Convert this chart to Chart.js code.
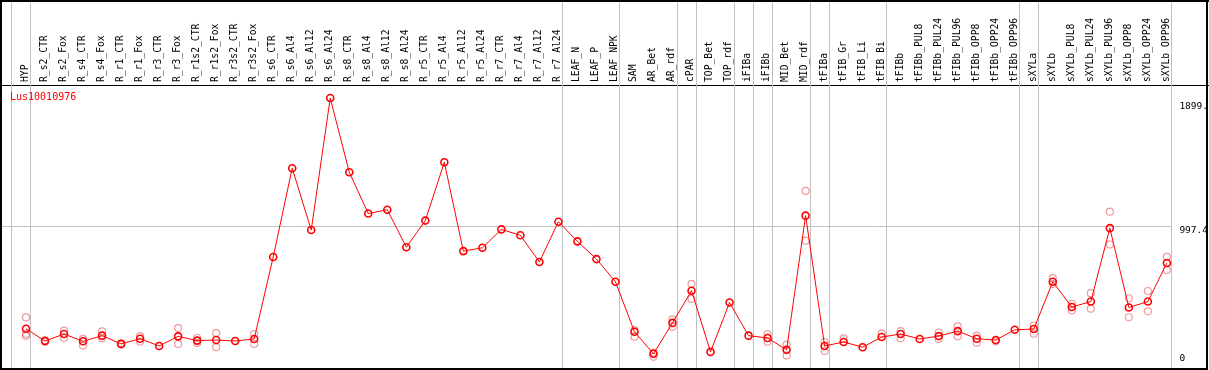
<!DOCTYPE html>
<html>
<head>
<meta charset="utf-8">
<script src="https://cdn.jsdelivr.net/npm/chart.js@4/dist/chart.umd.min.js"></script>
<style>
  html, body { margin: 0; padding: 0; background: #fff; }
  #wrap { width: 1209px; height: 370px; }
</style>
</head>
<body>
<div id="wrap"><canvas id="chartContainer"></canvas></div>
<script>
const geneName = 'Lus10010976';

const samples = ['HYP', 'R_s2_CTR', 'R_s2_Fox', 'R_s4_CTR', 'R_s4_Fox', 'R_r1_CTR', 'R_r1_Fox',
	'R_r3_CTR', 'R_r3_Fox', 'R_r1s2_CTR', 'R_r1s2_Fox', 'R_r3s2_CTR', 'R_r3s2_Fox',
	'R_s6_CTR', 'R_s6_Al4', 'R_s6_Al12', 'R_s6_Al24', 'R_s8_CTR', 'R_s8_Al4', 'R_s8_Al12', 'R_s8_Al24',
	'R_r5_CTR', 'R_r5_Al4', 'R_r5_Al12', 'R_r5_Al24', 'R_r7_CTR', 'R_r7_Al4', 'R_r7_Al12', 'R_r7_Al24',
	'LEAF_N', 'LEAF_P', 'LEAF_NPK', 'SAM', 'AR_Bet', 'AR_rdf', 'cPAR', 'TOP_Bet', 'TOP_rdf',
	'iFIBa', 'iFIBb', 'MID_Bet', 'MID_rdf', 'tFIBa', 'tFIB_Gr', 'tFIB_Li', 'tFIB_Bi',
	'tFIBb', 'tFIBb_PUL8', 'tFIBb_PUL24', 'tFIBb_PUL96', 'tFIBb_OPP8', 'tFIBb_OPP24', 'tFIBb_OPP96',
	'sXYLa', 'sXYLb', 'sXYLb_PUL8', 'sXYLb_PUL24', 'sXYLb_PUL96', 'sXYLb_OPP8', 'sXYLb_OPP24', 'sXYLb_OPP96'];

// mean expression
const meanValues = [253, 164, 215, 162, 203, 143, 181, 128, 198, 167, 171, 164, 179,
	775, 1421, 971, 1931, 1392, 1091, 1119, 846,
	1040, 1464, 818, 842, 976, 933, 739, 1032,
	889, 760, 595, 231, 71, 296, 530, 85, 444,
	203, 186, 100, 1076, 128, 157, 119, 193,
	215, 179, 200, 236, 181, 171, 246,
	251, 595, 411, 451, 985, 408, 451, 732];

// replicates (null where hidden behind the mean)
const rep1 = [336, 170, 239, 179, 234, 147, 200, null, 258, 186, 222, null, 215,
	null, null, null, null, null, null, null, null,
	null, null, null, null, null, null, null, null,
	null, null, null, 243, 80, 322, 580, null, null,
	null, 215, 138, 1256, 157, 184, null, 219,
	236, null, 226, 270, 203, 162, null,
	277, 621, 435, 512, 1105, 475, 528, 776];
const rep2 = [202, 158, 186, 131, 184, 139, 159, null, 143, 150, 119, null, 143,
	null, null, null, null, null, null, null, null,
	null, null, null, null, null, null, null, null,
	null, null, null, 196, 49, 267, 470, null, null,
	null, 159, 59, 894, 92, null, null, null,
	184, null, 179, 198, 152, null, null,
	217, 578, 387, 399, 866, 337, 380, 681];
const rep3 = [216];

const yTickValues = [0, 997.4, 1899];
const yTickLabels = ['0', '997.4', '1899.'];

// group separators sit just right of these sample indices
const groupEnds = [-1, 0, 28, 31, 34, 35, 37, 38, 39, 41, 42, 45, 52, 53, 60];

const labelFont = { family: 'DejaVu Sans Mono', size: 9.7 };
const valueFont = { family: 'DejaVu Sans Mono', size: 9.5 };

const framePlugin = {
	id: 'frame',
	beforeDraw(chart) {
		const ctx = chart.ctx;
		const W = chart.width;
		ctx.save();
		ctx.strokeStyle = '#000';
		ctx.lineWidth = 2;
		ctx.beginPath();
		ctx.moveTo(0, 1); ctx.lineTo(W, 1);
		ctx.moveTo(1, 0); ctx.lineTo(1, 370);
		ctx.moveTo(0, 369); ctx.lineTo(1207, 369);
		ctx.moveTo(1207, 0); ctx.lineTo(1207, 370);
		ctx.stroke();
		ctx.lineWidth = 1;
		ctx.beginPath();
		ctx.moveTo(0, 85.5); ctx.lineTo(W, 85.5);
		ctx.stroke();
		ctx.restore();
	},
	beforeDatasetsDraw(chart) {
		const ctx = chart.ctx;
		const x = chart.scales.x;
		const y = chart.scales.y;
		const H = chart.height;
		ctx.save();
		ctx.strokeStyle = '#c0c0c0';
		ctx.lineWidth = 1;
		const lastX = Math.round(x.getPixelForValue(groupEnds[groupEnds.length - 1]) + 4) + 0.5;
		groupEnds.forEach(i => {
			const px = Math.round(x.getPixelForValue(i) + 4) + 0.5;
			ctx.beginPath();
			ctx.moveTo(px, 2);
			ctx.lineTo(px, H - 2);
			ctx.stroke();
		});
		const gy = Math.round(y.getPixelForValue(yTickValues[1])) + 0.5;
		ctx.beginPath();
		ctx.moveTo(2, gy);
		ctx.lineTo(lastX, gy);
		ctx.stroke();
		ctx.fillStyle = '#ff0000';
		ctx.font = '10px "DejaVu Sans Mono"';
		ctx.textBaseline = 'middle';
		ctx.fillText(geneName, 10, 97);
		ctx.restore();
	}
};

function repSet(values) {
	return {
		label: 'replicate',
		data: values,
		showLine: false,
		pointRadius: 3.5,
		pointBorderWidth: 1.2,
		pointBorderColor: 'rgba(225, 90, 90, 0.6)',
		pointBackgroundColor: 'rgba(0,0,0,0)',
		order: 2
	};
}

const ctx = document.getElementById('chartContainer').getContext('2d');
const chart = new Chart(ctx, {
	type: 'line',
	data: {
		labels: samples,
		datasets: [
			{
				label: geneName,
				data: meanValues,
				borderColor: '#ff0000',
				borderWidth: 1,
				fill: false,
				tension: 0,
				pointRadius: 3.5,
				pointBorderWidth: 1.6,
				pointBorderColor: '#ff0000',
				pointBackgroundColor: 'rgba(0,0,0,0)',
				order: 1
			},
			repSet(rep1),
			repSet(rep2),
			repSet(rep3)
		]
	},
	options: {
		responsive: true,
		maintainAspectRatio: false,
		animation: false,
		layout: { padding: { left: 16.5, top: 0, right: 0, bottom: 2 } },
		plugins: {
			legend: { display: false },
			tooltip: { enabled: false }
		},
		scales: {
			x: {
				type: 'category',
				position: 'top',
				offset: true,
				grid: { display: false, drawTicks: false },
				border: { display: false },
				ticks: {
					autoSkip: false,
					maxRotation: 90,
					minRotation: 90,
					padding: 3,
					labelOffset: 11,
					color: '#000',
					font: labelFont
				},
				afterFit(scale) {
					scale.height = 85;
					scale.paddingLeft = 0;
					scale.paddingRight = 0;
				}
			},
			y: {
				position: 'right',
				min: -6,
				max: 2026,
				grid: { display: false, drawTicks: false },
				border: { display: false },
				afterBuildTicks(scale) {
					scale.ticks = yTickValues.map(v => ({ value: v }));
				},
				afterFit(scale) {
					scale.width = 32.6;
					scale.paddingTop = 0;
					scale.paddingBottom = 0;
				},
				ticks: {
					padding: 3,
					color: '#000',
					labelOffset: 4,
					font(c) {
						return c.index === 0 ? { family: 'DejaVu Sans Mono', size: 9.5, lineHeight: 0.95 } : valueFont;
					},
					callback(value) {
						const i = yTickValues.indexOf(value);
						if (i === 0) return [yTickLabels[0], '', ''];
						return i >= 0 ? yTickLabels[i] : '';
					}
				}
			}
		}
	},
	plugins: [framePlugin]
});
</script>
</body>
</html>
